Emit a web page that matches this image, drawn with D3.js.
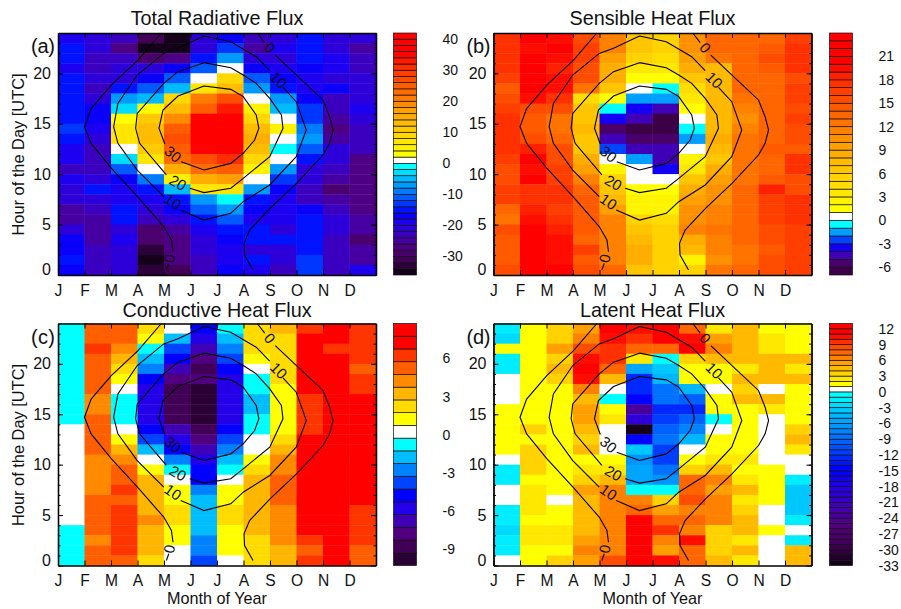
<!DOCTYPE html>
<html>
<head>
<meta charset="utf-8">
<script src="https://cdn.jsdelivr.net/npm/d3@7"></script>
<style>
  body { margin: 0; background: #fff; }
  svg text { font-family: "Liberation Sans", Arial, sans-serif; fill: #111; }
</style>
</head>
<body>
<div id="chart"></div>
<script>
const monthLabels = ["J", "F", "M", "A", "M", "J", "J", "A", "S", "O", "N", "D"];
const hourTicks = [0, 5, 10, 15, 20];

const radiative = [
  [-20,-22,-24,-32,-36,-22,-18,-24,-22,-16,-22,-22],
  [-16,-22,-28,-36,-36,-22,-14,-26,-20,-16,-22,-26],
  [-16,-24,-24,-30,-28,-16,-8,-22,-22,-16,-20,-24],
  [-20,-24,-22,-22,-18,-12,0,-18,-20,-18,-20,-24],
  [-16,-22,-22,-18,-12,0,8,-12,-18,-20,-22,-22],
  [-16,-24,-16,-12,-6,6,12,-8,-16,-20,-18,-22],
  [-16,-22,-8,-6,8,20,26,0,-8,-18,-24,-22],
  [-16,-18,-4,2,12,24,32,4,-6,-14,-24,-20],
  [-16,-18,2,10,18,36,36,8,0,-14,-26,-22],
  [-14,-20,6,12,24,36,36,12,4,-10,-28,-24],
  [-16,-22,6,12,26,36,36,14,0,-8,-26,-24],
  [-20,-24,0,10,24,34,36,12,-2,-12,-22,-24],
  [-20,-24,-4,6,22,26,30,8,0,-16,-22,-28],
  [-24,-24,-12,0,14,22,24,4,-8,-22,-24,-28],
  [-20,-22,-18,-10,4,14,16,0,-14,-22,-26,-28],
  [-22,-16,-20,-16,-6,6,6,-8,-18,-24,-30,-28],
  [-22,-22,-20,-20,-16,-8,-2,-16,-20,-24,-26,-28],
  [-26,-24,-16,-22,-18,-12,-8,-18,-20,-18,-24,-28],
  [-26,-26,-16,-24,-22,-16,-12,-20,-20,-16,-22,-26],
  [-22,-26,-22,-30,-26,-20,-16,-16,-22,-16,-22,-26],
  [-18,-26,-20,-30,-28,-22,-18,-16,-16,-16,-24,-30],
  [-18,-24,-22,-34,-28,-22,-20,-22,-22,-16,-24,-26],
  [-16,-24,-22,-36,-28,-24,-20,-16,-22,-14,-24,-26],
  [-18,-24,-22,-34,-32,-24,-18,-20,-24,-14,-24,-20]
];
const sensible = [
  [17,20,19,15,11,6,5,10,13,13,13,16],
  [17,19,20,16,11,6,5,10,13,13,14,17],
  [17,22,19,16,9,5,4,9,12,13,15,17],
  [17,21,18,15,8,3,3,8,7,13,14,17],
  [16,20,19,15,8,1,1,6,7,13,13,15],
  [14,21,19,12,6,0,-1,4,7,13,13,16],
  [15,19,17,4,1,-2,-2,3,7,12,13,16],
  [16,15,15,6,-1,-4,-5,1,7,11,13,15],
  [17,14,12,6,-4,-5,-7,0,7,10,13,16],
  [17,14,12,7,-6,-7,-7,-1,7,11,13,15],
  [17,15,13,6,-5,-6,-6,-2,8,12,13,15],
  [17,18,15,6,-3,-5,-5,0,7,12,14,14],
  [16,20,15,8,0,-2,-5,2,6,12,13,17],
  [15,19,16,9,2,0,-4,3,8,12,13,17],
  [15,21,16,11,5,0,0,6,9,12,14,15],
  [16,17,17,13,6,1,1,8,10,13,18,15],
  [16,17,17,14,7,2,2,9,10,13,16,17],
  [13,18,16,14,9,2,2,10,11,13,16,17],
  [12,19,17,14,11,5,4,10,11,13,16,17],
  [15,21,18,14,11,6,5,11,12,13,15,16],
  [14,22,19,13,11,7,5,8,11,13,15,16],
  [14,22,19,16,11,8,5,7,11,12,14,16],
  [14,22,19,14,11,8,5,2,10,12,15,16],
  [15,22,20,15,13,6,5,5,12,13,15,16]
];
const conductiveByMonth = [
  [-1,-1,-1,-1,-1,-1,-1,-1,-1,-1,0,0,0,0,0,0,0,0,0,0,-1,-1,-1,-1],
  [5,5,6,5,5,5,5,4,4,5,5,5,5,4,4,4,4,5,5,5,5,4,5,5],
  [5,5,4,3,2,1,0,-1,-1,-1,0,1,3,4,5,5,6,5,6,6,6,6,6,5],
  [2,1,-1,-2,-3,-5,-6,-6,-6,-6,-5,-4,-2,0,1,3,3,3,3,4,3,3,3,2],
  [0,-2,-4,-5,-7,-8,-9,-9,-9,-9,-7,-6,-5,-3,-1,0,1,1,2,2,1,1,0,0],
  [-5,-6,-7,-8,-9,-8,-10,-10,-10,-10,-9,-8,-7,-6,-5,-5,-3,-2,-2,-2,-2,-3,-3,-4],
  [-1,-2,-3,-4,-5,-6,-6,-6,-6,-6,-5,-4,-3,-2,-1,0,1,1,2,2,1,1,1,0],
  [2,2,2,1,0,-1,-1,-2,-2,-1,-1,0,0,1,2,3,3,3,3,3,3,2,2,2],
  [3,2,2,2,2,2,1,1,1,1,1,2,3,4,4,5,5,5,4,4,4,4,3,3],
  [6,7,7,7,7,7,7,6,6,6,6,7,7,7,7,7,7,7,7,7,7,6,5,6],
  [7,7,6,7,7,7,7,7,7,7,7,7,7,7,7,7,7,7,7,7,7,7,7,7],
  [6,6,6,6,5,6,6,7,7,7,7,7,7,7,7,7,7,7,6,6,6,6,5,5]
];
const latentByMonth = [
  [-2,-3,1,-2,-2,0,0,0,1,1,1,1,1,0,-2,-2,0,0,-2,-2,-3,-2,-2,0],
  [1,1,1,1,1,1,1,1,1,1,3,1,3,3,3,1,2,2,2,1,2,2,1,1],
  [3,3,5,3,4,3,1,1,1,1,1,1,1,1,1,1,1,0,1,1,2,2,1,3],
  [5,6,8,10,11,10,6,4,5,5,4,3,4,1,2,3,5,4,4,4,4,5,6,5],
  [12,10,9,9,7,4,0,-1,1,2,0,0,0,1,2,4,6,6,6,6,6,6,6,8],
  [10,9,7,2,-6,-13,-13,-15,-24,-20,-33,-15,-4,-7,-6,-6,-1,6,7,12,12,12,12,12],
  [11,12,7,-1,-4,-5,-9,-9,-13,-12,-10,-9,-12,-12,-9,-7,-1,3,5,7,9,6,5,10],
  [7,10,11,3,1,1,-5,-10,-13,-10,-8,-5,0,1,3,7,7,8,6,7,6,10,7,7],
  [2,5,6,4,1,1,0,1,1,-1,0,1,1,2,4,6,5,6,6,6,3,3,3,4],
  [4,4,4,4,2,4,3,4,1,1,1,1,1,2,1,2,4,2,3,4,4,2,4,2],
  [1,2,2,4,4,4,0,4,2,0,0,0,0,0,1,1,1,1,0,0,1,0,0,0],
  [1,1,1,4,2,4,1,1,1,1,3,4,2,0,0,-2,-4,-4,-4,-2,0,-2,4,4]
];

// contours in [month, hour], null where a label interrupts the line
const contour0Left = [[3.9,24],[3.02,21.3],[2.01,18.84],[1.25,16.5],[1,14.7],[1.25,13.05],[2.01,10.6],[3,7.77],[3.99,4.8],[4.28,3.47],[4.34,2.31],null,[4.18,1.16],[4.09,0.5]];
const contour0Right = [[7.52,24],[7.8,23.04],null,[8.2,21.8],[9,19.83],[10,17.36],[10.25,15.7],[10.38,14.38],[10.25,13.06],[10,11.9],[9,9.09],[8,6.6],[7.23,4.46],[7.02,3.14],[7.04,1.98],[7.36,0.5]];
const contour10 = [[5.51,23.7],[6.52,23.14],[7.48,21.65],[7.99,20.26],null,[8.49,18.61],[8.99,17.19],[9.37,14.38],[8.99,11.74],[7.99,8.93],[6.99,7.27],[6.52,6.12],[5.51,5.45],[4.63,6.45],null,[3.99,7.77],[2.99,10.41],[2.26,13.06],[2.1,14.71],[2.26,17.02],[2.99,19.83],[3.99,21.98],[4.53,22.48],[5.51,23.7]];
const contour20 = [[5.51,21.06],[6.52,20.56],[6.99,19.83],[7.48,19.01],[7.99,17.52],[8.43,15.87],[8.49,14.55],[7.99,11.74],[6.99,9.59],[6.52,8.6],[5.51,8.17],[4.97,8.6],null,[4.09,9.92],[3.08,13.06],[2.93,14.55],[2.99,16.03],[3.99,19.01],[4.53,20.17],[5.51,21.06]];
const contour30 = [[5.51,18.74],[6.52,18.41],[6.99,17.69],[7.48,15.87],[7.58,14.55],[7.42,13.39],[6.99,12.07],[6.52,11.07],[5.51,10.41],[4.65,11.24],null,[4.03,12.99],[3.81,14.55],[3.96,16.36],[4.53,17.75],[5.51,18.74]];
const contourLabels = [
  { text: "0", month: 7.99, hour: 22.55, angle: 50 },
  { text: "10", month: 8.33, hour: 19.34, angle: 45 },
  { text: "0", month: 4.19, hour: 1.65, angle: -80 },
  { text: "10", month: 4.34, hour: 7.27, angle: 35 },
  { text: "20", month: 4.53, hour: 9.16, angle: 30 },
  { text: "30", month: 4.34, hour: 12.0, angle: 40 }
];

const panels = [
  { title: "Total Radiative Flux", tag: "(a)", rows: radiative, x0: 58, y0: 33, barX: 393.5, titleY: -8,
    low: -36, high: 42, step: 2, offset: 0, floor: "#14001a", barTicks: d3.range(-30, 41, 10), yTitle: true, xTitle: false },
  { title: "Sensible Heat Flux", tag: "(b)", rows: sensible, x0: 493.5, y0: 33, barX: 829.5, titleY: -8,
    low: -7, high: 24, step: 1, offset: 0, floor: "#3c0046", barTicks: d3.range(-6, 22, 3), yTitle: false, xTitle: false },
  { title: "Conductive Heat Flux", tag: "(c)", rows: d3.transpose(conductiveByMonth), x0: 58, y0: 323.5, barX: 393.5, titleY: -6.7,
    low: -10, high: 9, step: 1, offset: -0.26, floor: "#2a0035", barTicks: d3.range(-9, 7, 3), yTitle: true, xTitle: true },
  { title: "Latent Heat Flux", tag: "(d)", rows: d3.transpose(latentByMonth), x0: 493.5, y0: 323.5, barX: 829.5, titleY: -6.7,
    low: -33, high: 13, step: 1, offset: 0, floor: "#14001a", barTicks: d3.range(-33, 13, 3), yTitle: false, xTitle: true }
];

const plotW = 318, plotH = 242, barW = 23;

// colours either side of the white zero band
const warm = d3.scaleLinear()
  .domain([0, 0.22, 0.35, 0.48, 0.61, 0.74, 0.85, 1])
  .range(["#ffff00", "#ffc800", "#ffa500", "#ff7800", "#ff5500", "#ff2d00", "#ff0000", "#ff0000"]);
const coldDomain = [0, 0.11, 0.22, 0.33, 0.44, 0.55, 0.67, 0.78, 0.89, 1];
const coldRange = ["#00ffff", "#00beff", "#0082ff", "#0046ff", "#0000ff", "#2300eb", "#4100b4", "#50007d", "#410055"];

function levelColor(p, v) {
  if (v === 0) return "#ffffff";
  if (v > 0) return warm((v - p.step) / (p.high - 2 * p.step));
  const cold = d3.scaleLinear().domain(coldDomain).range(coldRange.concat(p.floor));
  return cold((-v - p.step) / (-p.low - p.step));
}

const svg = d3.select("#chart").append("svg").attr("width", 901).attr("height", 609);

const line = d3.line().defined((d) => d !== null);

panels.forEach((p) => {
  const g = svg.append("g").attr("transform", `translate(${p.x0},${p.y0})`);
  const x = d3.scaleLinear().domain([0, 12]).range([0, plotW]);
  const y = d3.scaleLinear().domain([0, 24]).range([plotH, 0]);

  // heatmap cells
  p.rows.forEach((row, i) => {
    const hour = 23 - i;
    g.selectAll(null)
      .data(row)
      .enter()
      .append("rect")
      .attr("x", (d, m) => x(m))
      .attr("y", y(hour + 1))
      .attr("width", x(1) - x(0) + 0.4)
      .attr("height", y(0) - y(1) + 0.4)
      .attr("fill", (d) => levelColor(p, d));
  });

  // contours
  line.x((d) => x(d[0])).y((d) => y(d[1]));
  [contour0Left, contour0Right, contour10, contour20, contour30].forEach((c) => {
    g.append("path")
      .attr("d", line(c))
      .attr("fill", "none")
      .attr("stroke", "#000")
      .attr("stroke-width", 1.1);
  });
  contourLabels.forEach((l) => {
    g.append("text")
      .attr("transform", `translate(${x(l.month)},${y(l.hour)}) rotate(${l.angle})`)
      .attr("text-anchor", "middle")
      .attr("dy", "0.36em")
      .style("font-size", "15px")
      .text(l.text);
  });

  // axes, ticks point inward on all four sides
  const bottom = g.append("g")
    .attr("transform", `translate(0,${plotH})`)
    .call(d3.axisBottom(x).tickValues(d3.range(0, 12))
      .tickFormat((d) => monthLabels[d]).tickSizeInner(-5).tickSizeOuter(0).tickPadding(9.5));
  g.append("g")
    .call(d3.axisTop(x).tickValues(d3.range(0, 12)).tickFormat("").tickSizeInner(-5).tickSizeOuter(0));
  const left = g.append("g")
    .call(d3.axisLeft(y).tickValues(hourTicks).tickSizeInner(-5).tickSizeOuter(0).tickPadding(7));
  g.append("g")
    .attr("transform", `translate(${plotW},0)`)
    .call(d3.axisRight(y).tickValues(hourTicks).tickFormat("").tickSizeInner(-5).tickSizeOuter(0));
  g.append("g")
    .call(d3.axisLeft(y).tickValues(d3.range(1, 24)).tickFormat("").tickSizeInner(-2.5).tickSizeOuter(0));
  g.append("g")
    .attr("transform", `translate(${plotW},0)`)
    .call(d3.axisRight(y).tickValues(d3.range(1, 24)).tickFormat("").tickSizeInner(-2.5).tickSizeOuter(0));

  g.selectAll(".domain").attr("stroke", "#000").attr("stroke-width", 1.3);
  g.selectAll(".tick line").attr("stroke", "#000").attr("stroke-width", 1);
  bottom.selectAll("text").style("font-size", "15.6px");
  left.selectAll("text").style("font-size", "16px");
  left.selectAll(".tick").filter((d) => d === 0).select("text").attr("dy", "-0.02em");

  g.append("text")
    .attr("x", plotW / 2)
    .attr("y", p.titleY)
    .attr("text-anchor", "middle")
    .style("font-size", "19.8px")
    .text(p.title);

  g.append("text")
    .attr("x", -27)
    .attr("y", 20)
    .attr("textLength", 24)
    .style("font-size", "20px")
    .text(p.tag);

  if (p.yTitle) {
    g.append("text")
      .attr("transform", `translate(-34,${plotH / 2 + 0.5}) rotate(-90)`)
      .attr("text-anchor", "middle")
      .style("font-size", "16.4px")
      .text("Hour of the Day [UTC]");
  }
  if (p.xTitle) {
    g.append("text")
      .attr("x", plotW / 2)
      .attr("y", plotH + 38.6)
      .attr("text-anchor", "middle")
      .style("font-size", "16.2px")
      .text("Month of Year");
  }

  // colour bar
  const bar = svg.append("g").attr("transform", `translate(${p.barX},${p.y0})`);
  const barY = d3.scaleLinear()
    .domain([p.low + p.offset, p.high + p.offset])
    .range([plotH, 0]);
  const levels = d3.range(p.low, p.high, p.step);
  bar.selectAll("rect")
    .data(levels)
    .enter()
    .append("rect")
    .attr("x", 0)
    .attr("y", (d) => barY(d + p.offset + p.step))
    .attr("width", barW)
    .attr("height", (d) => barY(d + p.offset) - barY(d + p.offset + p.step))
    .attr("fill", (d) => levelColor(p, d))
    .attr("stroke", "#111")
    .attr("stroke-width", 0.7);
  bar.selectAll("text")
    .data(p.barTicks)
    .enter()
    .append("text")
    .attr("x", barW + 26)
    .attr("y", (d) => barY(d))
    .attr("dy", "0.36em")
    .style("font-size", "14px")
    .text((d) => d);
});
</script>
</body>
</html>
